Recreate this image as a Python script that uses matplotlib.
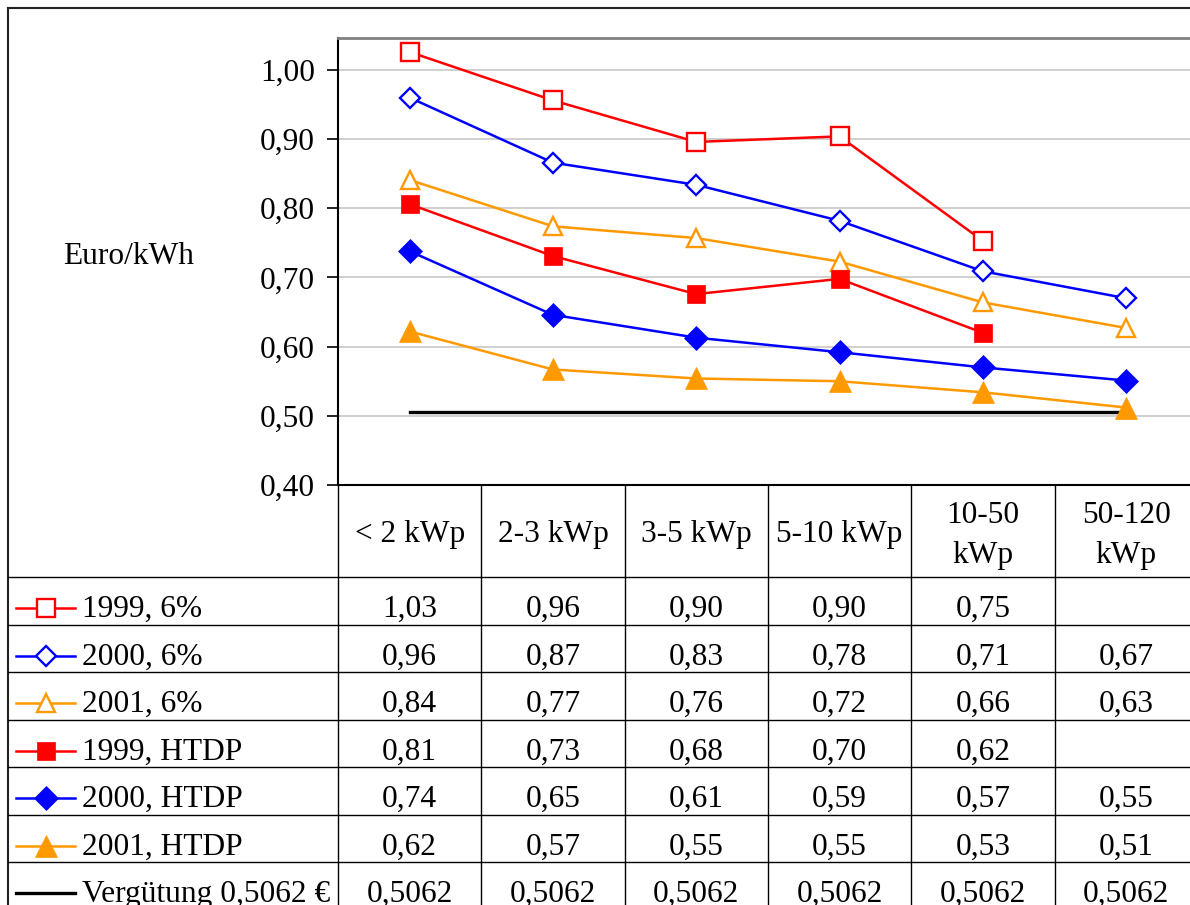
import numpy as np
import matplotlib
matplotlib.use("Agg")
import matplotlib.pyplot as plt
from matplotlib.lines import Line2D
from matplotlib import transforms

plt.rcParams['font.family'] = ['Liberation Serif', 'DejaVu Serif']

# ---------------- data ----------------
categories = ["< 2 kWp", "2-3 kWp", "3-5 kWp", "5-10 kWp", "10-50\nkWp", "50-120\nkWp"]
series_labels = ["1999, 6%", "2000, 6%", "2001, 6%", "1999, HTDP", "2000, HTDP", "2001, HTDP"]
s1999_6 = [1.026, 0.956, 0.896, 0.904, 0.753, np.nan]
s2000_6 = [0.960, 0.866, 0.834, 0.782, 0.709, 0.670]
s2001_6 = [0.841, 0.774, 0.757, 0.723, 0.664, 0.627]
s1999_h = [0.806, 0.731, 0.676, 0.698, 0.620, np.nan]
s2000_h = [0.738, 0.646, 0.613, 0.592, 0.570, 0.551]
s2001_h = [0.622, 0.567, 0.554, 0.550, 0.534, 0.512]
verguetung_label = "Vergütung 0,5062 €"
verguetung = [0.5062, 0.5062, 0.5062, 0.5062, 0.5062, 0.5062]
y_ticks = [0.40, 0.50, 0.60, 0.70, 0.80, 0.90, 1.00]
y_label = "Euro/kWh"

series_values = [s1999_6, s2000_6, s2001_6, s1999_h, s2000_h, s2001_h]

RED, BLUE, ORANGE = "#FF0000", "#0000FF", "#FF9900"
styles = [
    dict(color=RED, marker="s", ms=13.5, mfc="white", mew=1.7),
    dict(color=BLUE, marker="D", ms=10.5, mfc="white", mew=1.7),
    dict(color=ORANGE, marker="^", ms=12.5, mfc="white", mew=1.7),
    dict(color=RED, marker="s", ms=13.5, mfc=RED, mew=0.5),
    dict(color=BLUE, marker="D", ms=12.5, mfc=BLUE, mew=0.5),
    dict(color=ORANGE, marker="^", ms=16, mfc=ORANGE, mew=0.5),
]

def de(v, nd=2):
    if v is None or (isinstance(v, float) and np.isnan(v)):
        return ""
    return f"{v:.{nd}f}".replace(".", ",")

# ---------------- layout ----------------
W, H = 1190, 905
fig = plt.figure(figsize=(W / 100, H / 100), dpi=100)
FS = 22.6

plot_left, plot_top, plot_bottom = 338, 38, 485
col_w = 143.3
n = len(categories)
plot_right = plot_left + col_w * n
px_per_unit = 691.7

ax = fig.add_axes([plot_left / W, 1 - plot_bottom / H,
                   (plot_right - plot_left) / W, (plot_bottom - plot_top) / H])
ax.set_xlim(-0.5, n - 0.5)
ax.set_ylim(0.40, 0.40 + (plot_bottom - plot_top) / px_per_unit)

ax.set_yticks(y_ticks)
ax.set_yticklabels([de(v) for v in y_ticks])
ax.set_xticks([])
ax.tick_params(axis="y", length=7.9, width=1.2, pad=8.6, labelsize=FS, color="black")
ax.yaxis.grid(True, color="#c4c4c4", lw=1.1)
ax.set_axisbelow(True)
ax.spines["right"].set_visible(False)
ax.spines["top"].set_color("#808080")
ax.spines["top"].set_linewidth(2.0)
ax.spines["left"].set_linewidth(1.5)
ax.spines["bottom"].set_linewidth(1.5)

x = np.arange(n)
ax.plot(x, verguetung, color="black", lw=2.4, zorder=2)
for vals, st in zip(series_values, styles):
    ax.plot(x, vals, color=st["color"], lw=1.8, marker=st["marker"], ms=st["ms"],
            mfc=st["mfc"], mec=st["color"], mew=st["mew"], zorder=3)

# overlay in pixel coordinates (origin top-left)
ov = fig.add_axes([0, 0, 1, 1], zorder=5)
ov.set_xlim(0, W)
ov.set_ylim(H, 0)
ov.axis("off")
ov.patch.set_visible(False)
bl = transforms.blended_transform_factory(ax.transData, ov.transData)

# outer frame
ov.plot([8, 8], [8, H + 5], color="#222222", lw=1.5, clip_on=False)
ov.plot([8, W + 5], [8, 8], color="#222222", lw=1.5, clip_on=False)

# y label
ov.text(63, 264, y_label, fontsize=FS, ha="left", va="baseline")

# table grid
header_bottom = 577
row_h = 47.5
n_rows = len(series_labels) + 1
for k in range(n_rows):
    yy = header_bottom + k * row_h
    ov.plot([8, W + 5], [yy, yy], color="black", lw=1.0)
for i in range(n + 1):
    ov.plot([i - 0.5, i - 0.5], [plot_bottom, H + 5], color="black", lw=1.0,
            transform=bl)

# header texts
for i, cat in enumerate(categories):
    lines = cat.split("\n")
    if len(lines) == 1:
        ov.text(i, 542, lines[0], fontsize=FS, ha="center", va="baseline", transform=bl)
    else:
        ov.text(i, 523, lines[0], fontsize=FS, ha="center", va="baseline", transform=bl)
        ov.text(i, 563, lines[1], fontsize=FS, ha="center", va="baseline", transform=bl)

# rows
all_labels = series_labels + [verguetung_label]
all_values = series_values + [verguetung]
for r, (lab, vals) in enumerate(zip(all_labels, all_values)):
    bottom = header_bottom + (r + 1) * row_h
    base = bottom - 7.5
    key_y = base - 9
    if r < len(styles):
        st = styles[r]
        ov.add_line(Line2D([16, 75], [key_y, key_y], color=st["color"], lw=1.8))
        ov.add_line(Line2D([45.5], [key_y], color=st["color"], marker=st["marker"],
                           ms=st["ms"], mfc=st["mfc"], mec=st["color"], mew=st["mew"]))
        nd = 2
    else:
        ov.add_line(Line2D([16, 75], [key_y, key_y], color="black", lw=2.4))
        nd = 4
    ov.text(82, base, lab, fontsize=FS, ha="left", va="baseline")
    for i, v in enumerate(vals):
        ov.text(i, base, de(v, nd), fontsize=FS, ha="center", va="baseline", transform=bl)

fig.savefig("out.png", dpi=100)
